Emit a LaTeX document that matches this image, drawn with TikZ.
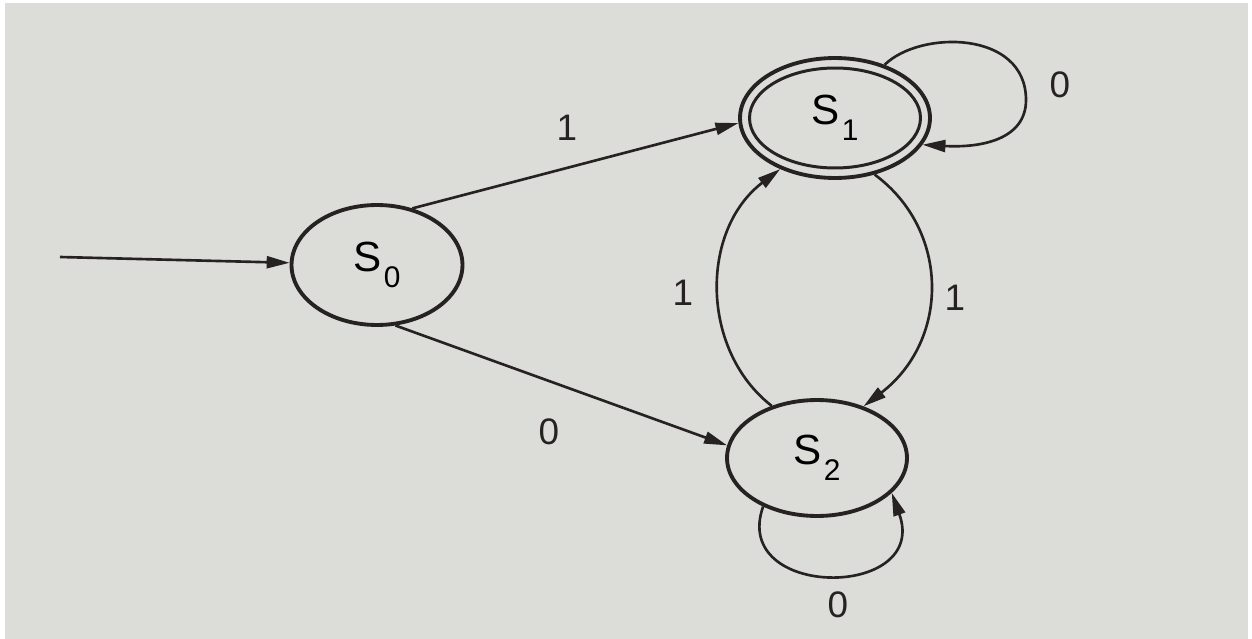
\documentclass[tikz,border=0pt]{standalone}
\usepackage{fontspec}
\setmainfont{Liberation Sans}
\usetikzlibrary{arrows.meta,shapes.geometric}
\definecolor{paper}{RGB}{220,220,217}
\definecolor{ink}{RGB}{38,34,34}
\newcommand\stlab[1]{\fontsize{24}{24}\selectfont S\kern0.05em\raisebox{-0.38em}{\fontsize{17}{17}\selectfont #1}}
\begin{document}
\begin{tikzpicture}[x=0.02cm,y=-0.02cm,
  state/.style={ellipse, draw=ink, line width=2.2pt, inner sep=0pt},
  conn/.style={draw=ink, line width=1.5pt, -{Triangle[length=0.46cm,width=0.24cm]}},
  lbl/.style={font=\fontsize{21}{21}\selectfont, text=ink}]
\useasboundingbox (0,0) rectangle (1252,639);
\fill[white] (0,0) rectangle (1252,639);
\fill[paper] (5,3) rectangle (1248,639);
% states
\node[state, minimum width=3.42cm, minimum height=2.4cm] (s0) at (377,265) {\stlab{0}};
\node[state, minimum width=3.8cm, minimum height=2.4cm] (s1) at (835,118) {};
\node[state, line width=1.7pt, minimum width=3.42cm, minimum height=2.0cm] (s1in) at (835,118) {\stlab{1}};
\node[state, minimum width=3.6cm, minimum height=2.32cm] (s2) at (817,458) {\stlab{2}};
% start arrow
\coordinate (start) at (60,257);
\draw[conn] (start) -- (s0);
% transitions
\draw[conn] (s0.58) -- (s1.183);
\draw[conn] (s0.-73) -- (s2.172);
\draw[conn] (s1.-55) .. controls (950,230) and (950,340) .. (s2.48);
\draw[conn] (s2.131) .. controls (700,350) and (700,230) .. (s1.223);
\draw[conn] (s1.47) .. controls (920,30) and (1026,30) .. (1026,100)
  .. controls (1026,140) and (980,148) .. (s1.-17);
\draw[conn] (s2.222) .. controls (730,600) and (930,600) .. (s2.-25);
% labels
\node[lbl] (l01) at (567,128) {1};
\node[lbl] (l02) at (549,432) {0};
\node[lbl] (l21) at (683,293) {1};
\node[lbl] (l12) at (955,298) {1};
\node[lbl] (l11) at (1060,85) {0};
\node[lbl] (l22) at (838,605) {0};
\end{tikzpicture}
\end{document}
